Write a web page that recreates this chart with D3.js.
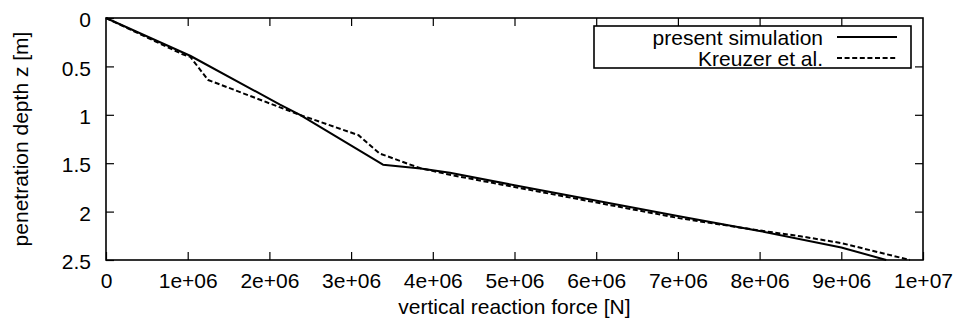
<!DOCTYPE html>
<html>
<head>
<meta charset="UTF-8">
<title>Penetration depth vs vertical reaction force</title>
<script src="https://d3js.org/d3.v7.min.js"></script>
<style>
  body { margin: 0; background: #fff; }
  svg text { font-family: "Liberation Sans", Arial, sans-serif; font-size: 21px; fill: #000; }
  .tick line { stroke: #000; stroke-width: 1.2px; }
  .frame { fill: none; stroke: #000; stroke-width: 1.6px; }
  .curve { fill: none; stroke: #000; stroke-width: 2px; stroke-linejoin: round; }
</style>
</head>
<body>
<script>
// data (force in N, depth in m)
var simForce  = [0, 1.03e6, 2.13e6, 2.375e6, 3.39e6, 3.85e6, 4.21e6, 5.0e6, 7.03e6, 8.0e6, 9.0e6, 9.55e6];
var simDepth  = [0, 0.39, 0.895, 1.0, 1.515, 1.555, 1.598, 1.728, 2.05, 2.2, 2.37, 2.5];

var kreuForce = [0, 0.93e6, 1.03e6, 1.25e6, 2.37e6, 3.09e6, 3.35e6, 3.84e6, 4.21e6, 7.03e6, 8.0e6, 8.5e6, 9.0e6, 9.84e6];
var kreuDepth = [0, 0.372, 0.40, 0.64, 1.0, 1.21, 1.40, 1.55, 1.62, 2.07, 2.195, 2.255, 2.325, 2.5];

var seriesNames = ["present simulation", "Kreuzer et al."];

var xTicks = [0, 1e6, 2e6, 3e6, 4e6, 5e6, 6e6, 7e6, 8e6, 9e6, 1e7];
var xTickLabels = ["0", "1e+06", "2e+06", "3e+06", "4e+06", "5e+06", "6e+06", "7e+06", "8e+06", "9e+06", "1e+07"];
var yTicks = [0, 0.5, 1, 1.5, 2, 2.5];
var yTickLabels = ["0", "0.5", "1", "1.5", "2", "2.5"];

var xTitle = "vertical reaction force [N]";
var yTitle = "penetration depth z [m]";

var width = 960, height = 326;
var plotLeft = 106, plotRight = 923, plotTop = 18, plotBottom = 260;

var svg = d3.select("body").append("svg")
    .attr("width", width)
    .attr("height", height);

var x = d3.scaleLinear().domain([0, 1e7]).range([plotLeft, plotRight]);
var y = d3.scaleLinear().domain([0, 2.5]).range([plotTop, plotBottom]);

// axes, ticks point inward on every side (gnuplot style)
var xBottom = svg.append("g")
    .attr("transform", "translate(0," + plotBottom + ")")
    .call(d3.axisBottom(x).tickValues(xTicks)
        .tickFormat(function(d, i) { return xTickLabels[i]; })
        .tickSizeInner(-8).tickSizeOuter(0).tickPadding(13));
xBottom.select(".domain").remove();
xBottom.selectAll("text").attr("fill", "#000");

var xTop = svg.append("g")
    .attr("transform", "translate(0," + plotTop + ")")
    .call(d3.axisTop(x).tickValues(xTicks.slice(1, -1))
        .tickFormat("").tickSizeInner(-8).tickSizeOuter(0));
xTop.select(".domain").remove();

var yLeft = svg.append("g")
    .attr("transform", "translate(" + plotLeft + ",0)")
    .call(d3.axisLeft(y).tickValues(yTicks)
        .tickFormat(function(d, i) { return yTickLabels[i]; })
        .tickSizeInner(-8).tickSizeOuter(0).tickPadding(15));
yLeft.select(".domain").remove();
yLeft.selectAll("text").attr("fill", "#000").attr("dy", "0.41em");

var yRight = svg.append("g")
    .attr("transform", "translate(" + plotRight + ",0)")
    .call(d3.axisRight(y).tickValues(yTicks.slice(1, -1))
        .tickFormat("").tickSizeInner(-8).tickSizeOuter(0));
yRight.select(".domain").remove();

svg.append("rect")
    .attr("class", "frame")
    .attr("x", plotLeft).attr("y", plotTop)
    .attr("width", plotRight - plotLeft).attr("height", plotBottom - plotTop);

// axis titles
svg.append("text")
    .attr("x", (plotLeft + plotRight) / 2)
    .attr("y", 314)
    .attr("text-anchor", "middle")
    .text(xTitle);

svg.append("text")
    .attr("transform", "translate(28," + ((plotTop + plotBottom) / 2) + ") rotate(-90)")
    .attr("text-anchor", "middle")
    .text(yTitle);

// curves
var line = d3.line()
    .x(function(d) { return x(d[0]); })
    .y(function(d) { return y(d[1]); });

var simData = d3.zip(simForce, simDepth);
var kreuData = d3.zip(kreuForce, kreuDepth);

svg.append("path")
    .datum(simData)
    .attr("class", "curve")
    .attr("d", line);

svg.append("path")
    .datum(kreuData)
    .attr("class", "curve")
    .attr("stroke-dasharray", "5,2.6")
    .attr("d", line);

// legend
var legend = svg.append("g");
legend.append("rect")
    .attr("class", "frame")
    .attr("x", 594).attr("y", 26)
    .attr("width", 317).attr("height", 42);

var rows = [{ name: seriesNames[0], dash: null, ly: 37 },
            { name: seriesNames[1], dash: "5,2.6", ly: 58 }];

rows.forEach(function(r) {
    legend.append("text")
        .attr("x", 823)
        .attr("y", r.ly + 7.5)
        .attr("text-anchor", "end")
        .text(r.name);
    legend.append("line")
        .attr("class", "curve")
        .attr("x1", 837).attr("x2", 897)
        .attr("y1", r.ly).attr("y2", r.ly)
        .attr("stroke-dasharray", r.dash);
});
</script>
</body>
</html>
